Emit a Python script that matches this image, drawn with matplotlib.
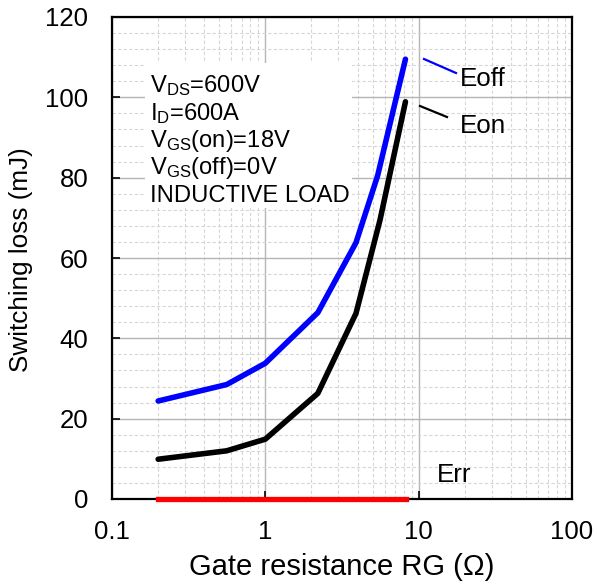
import numpy as np
import matplotlib.pyplot as plt
from matplotlib.patches import Rectangle
from matplotlib.ticker import FixedLocator, NullFormatter

# ============================================================
# DATA
# ============================================================
rg = [0.2, 0.56, 1.0, 2.2, 3.9, 5.4, 8.2]
rg_on = [0.2, 0.56, 1.0, 2.2, 3.9, 5.6, 8.2]
eoff = [24.4, 28.5, 33.8, 46.4, 63.8, 80.5, 109.5]
eon = [9.9, 12.0, 14.9, 26.3, 46.2, 69.5, 98.9]
err_x = [0.2, 8.3]
err = [0.0, 0.0]

cond_lines = [
    r"V$_{\mathrm{DS}}$=600V",
    r"I$_{\mathrm{D}}$=600A",
    r"V$_{\mathrm{GS}}$(on)=18V",
    r"V$_{\mathrm{GS}}$(off)=0V",
    "INDUCTIVE LOAD",
]

plt.rcParams['font.family'] = ['Liberation Sans', 'DejaVu Sans']
plt.rcParams['mathtext.fontset'] = 'custom'
plt.rcParams['mathtext.rm'] = 'Liberation Sans'
plt.rcParams['mathtext.it'] = 'Liberation Sans'

fig = plt.figure(figsize=(5.97, 5.84), dpi=100)
W, H = 597, 584
ax = fig.add_axes([112 / W, 1 - 499 / H, 460 / W, 482 / H])

ax.set_xscale('log')
ax.set_xlim(0.1, 100)
ax.set_ylim(0, 120)

# ---------- grid ----------
ax.set_yticks(np.arange(0, 121, 20))
ax.yaxis.set_minor_locator(FixedLocator(np.arange(0, 121, 4)))
ax.set_xticks([0.1, 1, 10, 100])
ax.set_xticklabels(["0.1", "1", "10", "100"])
ax.xaxis.set_minor_locator(FixedLocator([m * d for d in [0.1, 1, 10] for m in range(2, 10)]))
ax.xaxis.set_minor_formatter(NullFormatter())
ax.grid(True, which='major', color='#b5b5b5', lw=1.0, ls='-', zorder=0)
ax.grid(True, which='minor', color='#d6d6d6', lw=0.8, ls=(0, (3, 2)), zorder=0)
ax.tick_params(which='major', direction='in', length=6, width=1.2, labelsize=18.5)
ax.tick_params(axis='y', which='major', pad=17)
ax.tick_params(axis='x', which='major', pad=15)
ax.tick_params(which='minor', length=0)
ax.set_axisbelow(True)
for s in ax.spines.values():
    s.set_linewidth(1.6)

# ---------- kurva ----------
ax.plot(rg, eoff, color='#0000ff', lw=4.0, solid_capstyle='round', zorder=4)
ax.plot(rg_on, eon, color='black', lw=4.0, solid_capstyle='round', zorder=4)
ax.plot(err_x, err, color='#ff0000', lw=3.8, clip_on=False, zorder=5)

# ---------- kotak kondisi ----------
ax.add_patch(Rectangle((0.072, 0.604), 0.45, 0.30, transform=ax.transAxes,
                       facecolor='white', edgecolor='none', zorder=2))
ys = [0.844, 0.787, 0.730, 0.674, 0.617]
for txt, y in zip(cond_lines, ys):
    ax.text(0.083, y, txt, transform=ax.transAxes, va='baseline', ha='left',
            fontsize=17.1, zorder=3)

# ---------- label kurva ----------
def fx(px):
    return (px - 112) / 460

def fy(py):
    return (499 - py) / 482

ax.plot([fx(424), fx(456)], [fy(59), fy(73)], transform=ax.transAxes,
        color='#0000ff', lw=1.6, clip_on=False)
ax.plot([fx(420), fx(447)], [fy(106), fy(117)], transform=ax.transAxes,
        color='black', lw=1.6, clip_on=False)
ax.text(fx(460), fy(86), "Eoff", transform=ax.transAxes, va='baseline', fontsize=18.7)
ax.text(fx(460), fy(133), "Eon", transform=ax.transAxes, va='baseline', fontsize=18.7)
ax.text(fx(437), fy(482), "Err", transform=ax.transAxes, va='baseline', fontsize=18.7)

ax.set_xlabel("Gate resistance RG (Ω)", fontsize=21)
ax.set_ylabel("Switching loss (mJ)", fontsize=18.8)
ax.xaxis.set_label_coords(0.5, -0.112)
ax.yaxis.set_label_coords(-0.172, 0.497)

plt.savefig("out.png", dpi=100)
